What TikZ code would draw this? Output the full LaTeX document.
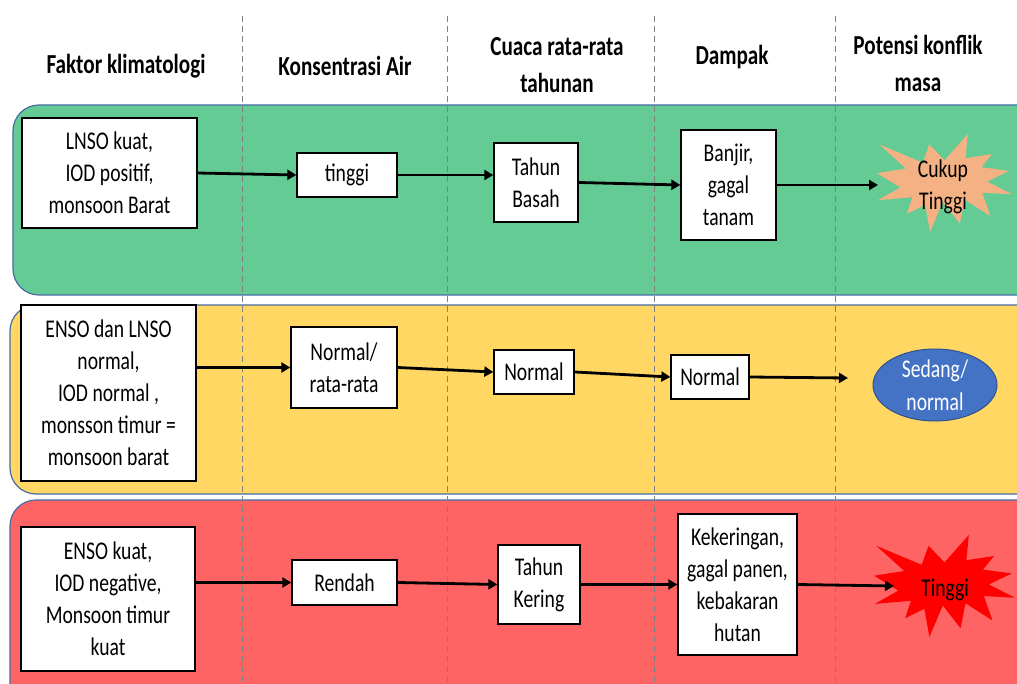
\documentclass[tikz,border=0pt]{standalone}
\usepackage{fontspec}
\setmainfont{Carlito}[FakeStretch=0.77]
\usetikzlibrary{arrows.meta,shapes.geometric,calc}

\definecolor{bandgreen}{RGB}{100,203,149}
\definecolor{bandyellow}{RGB}{255,215,98}
\definecolor{bandred}{RGB}{255,100,100}
\definecolor{bandline}{RGB}{70,108,165}
\definecolor{peach}{RGB}{244,177,131}
\definecolor{blobblue}{RGB}{68,114,196}
\definecolor{blobline}{RGB}{47,82,143}

\tikzset{
  band/.style={draw=bandline, line width=1.2pt, rounded corners=26pt},
  sep/.style={draw=gray, line width=0.9pt, dash pattern=on 6pt off 4pt},
  head/.style={align=center, inner sep=0pt, font=\fontsize{27.5}{37}\selectfont\bfseries},
  box/.style={draw=black, line width=1.3pt, fill=white, align=center, inner sep=0pt,
              font=\fontsize{25.5}{32}\selectfont},
  label/.style={align=center, inner sep=0pt, font=\fontsize{25.5}{32}\selectfont},
  arr/.style={line width=2.8pt, -{Triangle[length=9pt,width=10pt]}},
  % explosion outline on a 0..100 grid, y pointing down
  seal/.pic={\path[pic actions] (50,26.85) -- (67.23,0) -- (65.53,24.65) -- (85.09,20.63)
      -- (77.32,33.87) -- (97.67,37.67) -- (81.51,48.50) -- (100,61.53) -- (77.95,59.92)
      -- (84.00,83.77) -- (64.91,66.93) -- (61.33,91.38) -- (48.76,69.14) -- (39.28,100)
      -- (35.72,72.35) -- (22.05,81.56) -- (26.24,64.52) -- (0.63,67.53) -- (17.23,54.51)
      -- (0,39.88) -- (21.42,35.26) -- (1.71,10.63) -- (33.85,29.26) -- (38.67,10.63) -- cycle;}
}

\begin{document}
\begin{tikzpicture}[x=1pt,y=-1pt]
\useasboundingbox (0,0) rectangle (1017,684);
\clip (0,0) rectangle (1017,684);

% coloured rows
\fill[white] (0,0) rectangle (1017,684);
\path[band, fill=bandgreen]  (13,105) rectangle (1060,295);
\path[band, fill=bandyellow] (10,305) rectangle (1060,494);
\path[band, fill=bandred]    (10,500) rectangle (1060,740);

% column separators
\foreach \xx/\nm in {242/s1,447/s2,654/s3,835/s4}{
  \coordinate (\nm top) at (\xx,16);
  \coordinate (\nm bot) at (\xx,684);
  \draw[sep] (\nm top) -- (\nm bot);
}

% column headings
\node[head] (h1) at (126,66) {Faktor klimatologi};
\node[head] (h2) at (345,66) {Konsentrasi Air};
\node[head] (h3) at (557,65) {Cuaca rata-rata\\tahunan};
\node[head] (h4) at (732,57) {Dampak};
\node[head] (h5) at (918,63) {Potensi konflik\\masa};

% row 1
\node[box, minimum width=175, minimum height=110] (f1) at (109.5,173) {LNSO kuat,\\IOD positif,\\monsoon Barat};
\node[box, minimum width=100, minimum height=44] (k1) at (347,175) {tinggi};
\node[box, minimum width=84, minimum height=79] (c1) at (536,182.5) {Tahun\\Basah};
\node[box, minimum width=95, minimum height=110] (d1) at (728.5,185) {Banjir,\\gagal\\tanam};
\path (877,134) pic[x=1.35pt, y=-0.98pt, fill=peach] {seal};
\node[label] (p1) at (943,187) {Cukup\\Tinggi};
\coordinate (p1in) at (878,185);

% row 2
\node[box, minimum width=175, minimum height=176] (f2) at (108.5,393) {ENSO dan LNSO\\normal,\\IOD normal ,\\monsson timur =\\monsoon barat};
\node[box, minimum width=106, minimum height=81] (k2) at (344,367.5) {Normal/\\rata-rata};
\node[box, minimum width=80, minimum height=44] (c2) at (534,372) {Normal};
\node[box, minimum width=78, minimum height=44] (d2) at (710,377) {Normal};
\node[ellipse, draw=blobline, line width=1pt, fill=blobblue, text=white, align=center,
      inner sep=0pt, minimum width=124, minimum height=72,
      font=\fontsize{25.5}{33}\selectfont] (p2) at (935,385) {Sedang/\\normal};
\coordinate (p2in) at (848,378);

% row 3
\node[box, minimum width=174, minimum height=144] (f3) at (108,599) {ENSO kuat,\\IOD negative,\\Monsoon timur\\kuat};
\node[box, minimum width=105, minimum height=45] (k3) at (344.5,582.5) {Rendah};
\node[box, minimum width=82, minimum height=79] (c3) at (539,584.5) {Tahun\\Kering};
\node[box, minimum width=119, minimum height=141] (d3) at (737.5,584.5) {Kekeringan,\\gagal panen,\\kebakaran\\hutan};
\path (874,535) pic[x=1.41pt, y=-1.02pt, fill=red] {seal};
\node[label] (p3) at (945,590) {Tinggi};
\coordinate (p3in) at (894,586);

% connectors
\draw[arr] (f1.east) -- (k1.west);
\draw[arr] (k1.east) -- (k1.east -| c1.west);
\draw[arr] (c1.east) -- (d1.west);
\draw[arr] (d1.east) -- (p1in);

\draw[arr] (k2.west -| f2.east) -- (k2.west);
\draw[arr] (k2.east) -- (c2.west);
\draw[arr] (c2.east) -- (d2.west);
\draw[arr] (d2.east) -- (p2in);

\draw[arr] (k3.west -| f3.east) -- (k3.west);
\draw[arr] (k3.east) -- (c3.west);
\draw[arr] (c3.east) -- (d3.west);
\draw[arr] (d3.east) -- (p3in);
\end{tikzpicture}
\end{document}
